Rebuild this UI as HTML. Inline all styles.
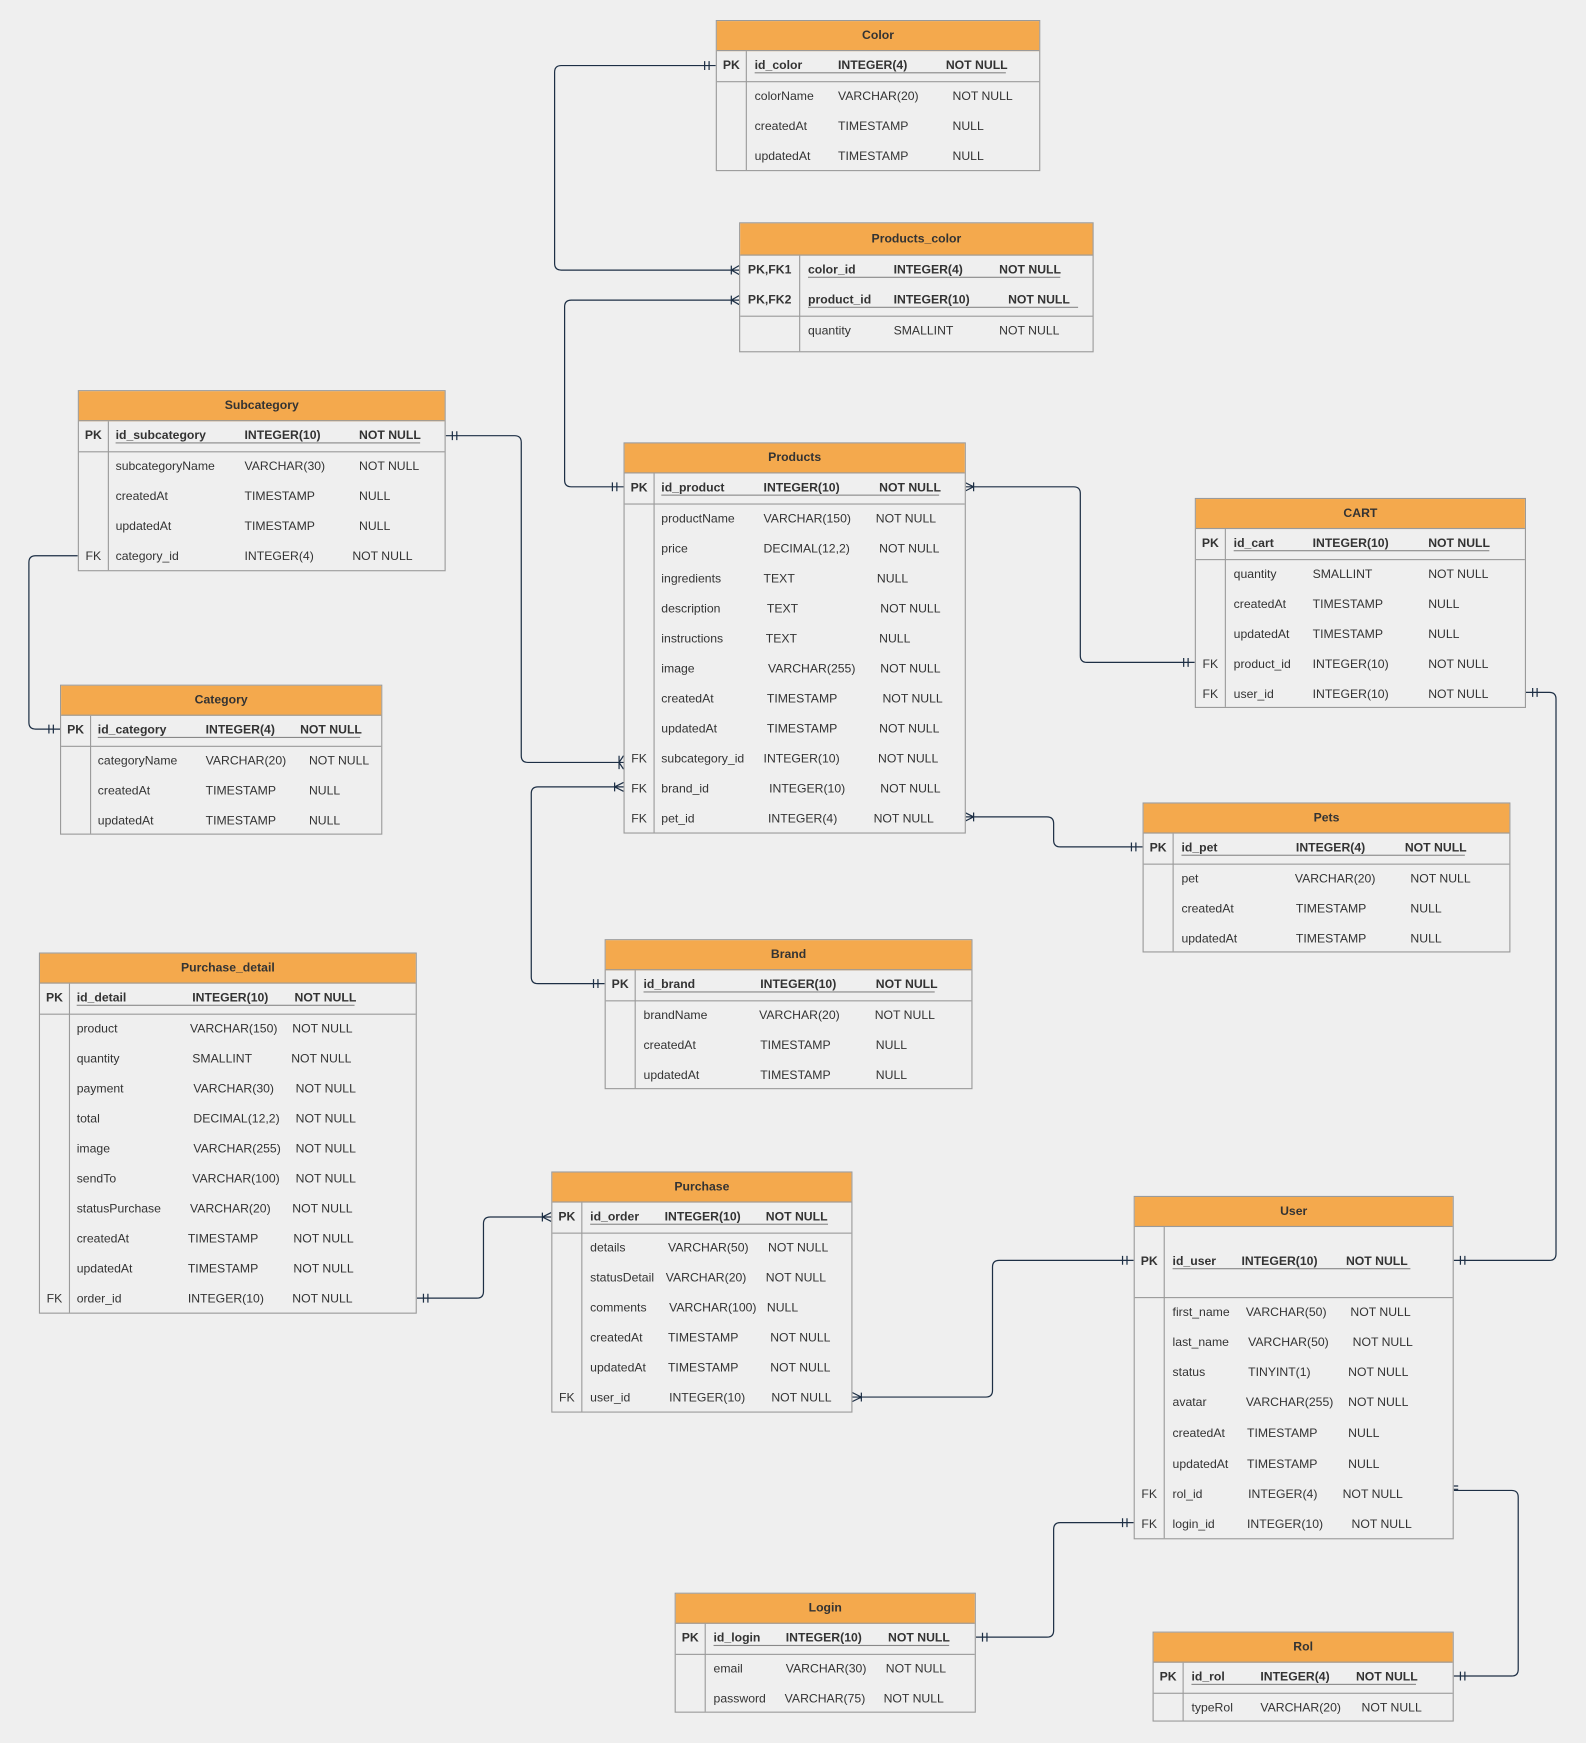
<!DOCTYPE html>
<html><head><meta charset="utf-8"><style>
html,body{margin:0;padding:0;background:#efefef;}
#w{position:absolute;left:0;top:0;width:1427px;height:1568px;transform:scale(1.11143);transform-origin:0 0;font-family:"Liberation Sans",Arial,sans-serif;font-size:11px;color:#333;}
.t{position:absolute;border:1px solid #9a9a9a;background:#efefef;box-sizing:border-box;}
.h{height:27px;line-height:27px;background:#f4a94d;border-bottom:1px solid #9a9a9a;text-align:center;font-weight:bold;box-sizing:border-box;}
.r{position:relative;height:27px;line-height:27px;white-space:nowrap;}
.r span{position:absolute;top:0;}
.a{left:0;width:26px;text-align:center;}
.b{left:var(--n);}.c{left:var(--y);}.d{left:var(--z);}
.k{border-bottom:1px solid #9a9a9a;font-weight:bold;}
.k span.b,.k span.c,.k span.d{font-weight:bold;}
.u{position:absolute;height:1px;background:#888;top:19px;}
.v{position:absolute;top:27px;bottom:0;width:1px;background:#9a9a9a;left:26px;}
svg{position:absolute;left:0;top:0;}
</style></head><body><div id="w">
<svg width="1427" height="1568" fill="none" stroke="#1d2f45" stroke-width="1.1">
<path d="M644 59H505q-6 0 -6 6V237q0 6 6 6H665"/>
<path d="M665 270H514q-6 0 -6 6V432q0 6 6 6H561"/>
<path d="M401 392H463q6 0 6 6V680q0 6 6 6H561"/>
<path d="M70 500H32q-6 0 -6 6V650q0 6 6 6H54"/>
<path d="M868 438H966q6 0 6 6V590q0 6 6 6H1075"/>
<path d="M561 708H484q-6 0 -6 6V879q0 6 6 6H544"/>
<path d="M868 735H942q6 0 6 6V756q0 6 6 6H1028"/>
<path d="M1373 623H1394q6 0 6 6V1128q0 6 -6 6H1308"/>
<path d="M375 1168H429q6 0 6 -6V1101q0 -6 6 -6H496"/>
<path d="M767 1257H887q6 0 6 -6V1140q0 -6 6 -6H1020"/>
<path d="M1308 1341H1360q6 0 6 6V1502q0 6 -6 6H1308"/>
<path d="M1020 1370H954q-6 0 -6 6V1467q0 6 -6 6H878"/>
<path d="M634 55v8M638 55v8 M551 434v8M555 434v8 M407 388v8M411 388v8 M44 652v8M48 652v8 M1065 592v8M1069 592v8 M534 881v8M538 881v8 M1018 758v8M1022 758v8 M1379 619v8M1383 619v8 M1314 1130v8M1318 1130v8 M381 1164v8M385 1164v8 M1010 1130v8M1014 1130v8 M1314 1504v8M1318 1504v8 M1010 1366v8M1014 1366v8 M884 1469v8M888 1469v8 M1304 1337h8M1304 1340h8"/>
<path d="M665 239l-7 4l7 4M658 239v8 M665 266l-7 4l7 4M658 266v8 M561 680l-4 6l4 6M557 680v12 M561 704l-8 4l8 4M553 704v8 M868 434l8 4l-8 4M876 434v8 M868 731l8 4l-8 4M876 731v8 M496 1091l-8 4l8 4M488 1091v8 M767 1253l8 4l-8 4M775 1253v8"/>
</svg>

<div class="t" style="left:644px;top:18px;width:292px;height:136px;--n:34px;--y:109px;--z:212px"><div class="h">Color</div><div class="v"></div>
<div class="r k"><span class="a">PK</span><span class="b">id_color</span><span class="c">INTEGER(4)</span><span class="d" style="left:206px">NOT NULL</span><div class="u" style="left:34px;width:226px"></div></div>
<div class="r"><span class="b">colorName</span><span class="c">VARCHAR(20)</span><span class="d">NOT NULL</span></div>
<div class="r"><span class="b">createdAt</span><span class="c">TIMESTAMP</span><span class="d">NULL</span></div>
<div class="r"><span class="b">updatedAt</span><span class="c">TIMESTAMP</span><span class="d">NULL</span></div></div>

<div class="t" style="left:665px;top:200px;width:319px;height:117px;--n:61px;--y:138px;--z:233px"><div class="h" style="height:29px;line-height:29px">Products_color</div><div class="v" style="left:53px;top:29px"></div>
<div class="r" style="font-weight:bold"><span class="a" style="width:53px">PK,FK1</span><span class="b">color_id</span><span class="c">INTEGER(4)</span><span class="d">NOT NULL</span><div class="u" style="left:61px;width:227px"></div></div>
<div class="r k"><span class="a" style="width:53px">PK,FK2</span><span class="b">product_id</span><span class="c">INTEGER(10)</span><span class="d" style="left:241px">NOT NULL</span><div class="u" style="left:61px;width:243px"></div></div>
<div class="r"><span class="b">quantity</span><span class="c">SMALLINT</span><span class="d">NOT NULL</span></div></div>

<div class="t" style="left:70px;top:351px;width:331px;height:163px;--n:33px;--y:149px;--z:252px"><div class="h">Subcategory</div><div class="v"></div>
<div class="r k"><span class="a">PK</span><span class="b">id_subcategory</span><span class="c">INTEGER(10)</span><span class="d">NOT NULL</span><div class="u" style="left:33px;width:274px"></div></div>
<div class="r"><span class="b">subcategoryName</span><span class="c">VARCHAR(30)</span><span class="d">NOT NULL</span></div>
<div class="r"><span class="b">createdAt</span><span class="c">TIMESTAMP</span><span class="d">NULL</span></div>
<div class="r"><span class="b">updatedAt</span><span class="c">TIMESTAMP</span><span class="d">NULL</span></div>
<div class="r"><span class="a">FK</span><span class="b">category_id</span><span class="c">INTEGER(4)</span><span class="d" style="left:246px">NOT NULL</span></div></div>

<div class="t" style="left:54px;top:616px;width:290px;height:135px;--n:33px;--y:130px;--z:223px"><div class="h">Category</div><div class="v"></div>
<div class="r k"><span class="a">PK</span><span class="b">id_category</span><span class="c">INTEGER(4)</span><span class="d" style="left:215px">NOT NULL</span><div class="u" style="left:33px;width:236px"></div></div>
<div class="r"><span class="b">categoryName</span><span class="c">VARCHAR(20)</span><span class="d">NOT NULL</span></div>
<div class="r"><span class="b">createdAt</span><span class="c">TIMESTAMP</span><span class="d">NULL</span></div>
<div class="r"><span class="b">updatedAt</span><span class="c">TIMESTAMP</span><span class="d">NULL</span></div></div>

<div class="t" style="left:561px;top:398px;width:308px;height:352px;--n:33px;--y:125px;--z:229px"><div class="h">Products</div><div class="v"></div>
<div class="r k"><span class="a">PK</span><span class="b">id_product</span><span class="c">INTEGER(10)</span><span class="d">NOT NULL</span><div class="u" style="left:33px;width:250px"></div></div>
<div class="r"><span class="b">productName</span><span class="c">VARCHAR(150)</span><span class="d" style="left:226px">NOT NULL</span></div>
<div class="r"><span class="b">price</span><span class="c">DECIMAL(12,2)</span><span class="d">NOT NULL</span></div>
<div class="r"><span class="b">ingredients</span><span class="c">TEXT</span><span class="d" style="left:227px">NULL</span></div>
<div class="r"><span class="b">description</span><span class="c" style="left:128px">TEXT</span><span class="d" style="left:230px">NOT NULL</span></div>
<div class="r"><span class="b">instructions</span><span class="c" style="left:127px">TEXT</span><span class="d">NULL</span></div>
<div class="r"><span class="b">image</span><span class="c" style="left:129px">VARCHAR(255)</span><span class="d" style="left:230px">NOT NULL</span></div>
<div class="r"><span class="b">createdAt</span><span class="c" style="left:128px">TIMESTAMP</span><span class="d" style="left:232px">NOT NULL</span></div>
<div class="r"><span class="b">updatedAt</span><span class="c" style="left:128px">TIMESTAMP</span><span class="d">NOT NULL</span></div>
<div class="r"><span class="a">FK</span><span class="b">subcategory_id</span><span class="c">INTEGER(10)</span><span class="d" style="left:228px">NOT NULL</span></div>
<div class="r"><span class="a">FK</span><span class="b">brand_id</span><span class="c" style="left:130px">INTEGER(10)</span><span class="d" style="left:230px">NOT NULL</span></div>
<div class="r"><span class="a">FK</span><span class="b">pet_id</span><span class="c" style="left:129px">INTEGER(4)</span><span class="d" style="left:224px">NOT NULL</span></div></div>

<div class="t" style="left:1075px;top:448px;width:298px;height:189px;--n:34px;--y:105px;--z:209px"><div class="h">CART</div><div class="v"></div>
<div class="r k"><span class="a">PK</span><span class="b">id_cart</span><span class="c">INTEGER(10)</span><span class="d">NOT NULL</span><div class="u" style="left:34px;width:230px"></div></div>
<div class="r"><span class="b">quantity</span><span class="c">SMALLINT</span><span class="d">NOT NULL</span></div>
<div class="r"><span class="b">createdAt</span><span class="c">TIMESTAMP</span><span class="d">NULL</span></div>
<div class="r"><span class="b">updatedAt</span><span class="c">TIMESTAMP</span><span class="d">NULL</span></div>
<div class="r"><span class="a">FK</span><span class="b">product_id</span><span class="c">INTEGER(10)</span><span class="d">NOT NULL</span></div>
<div class="r"><span class="a">FK</span><span class="b">user_id</span><span class="c">INTEGER(10)</span><span class="d">NOT NULL</span></div></div>

<div class="t" style="left:1028px;top:722px;width:331px;height:135px;--n:34px;--y:137px;--z:240px"><div class="h">Pets</div><div class="v"></div>
<div class="r k"><span class="a">PK</span><span class="b">id_pet</span><span class="c">INTEGER(4)</span><span class="d" style="left:235px">NOT NULL</span><div class="u" style="left:34px;width:255px"></div></div>
<div class="r"><span class="b">pet</span><span class="c" style="left:136px">VARCHAR(20)</span><span class="d">NOT NULL</span></div>
<div class="r"><span class="b">createdAt</span><span class="c">TIMESTAMP</span><span class="d">NULL</span></div>
<div class="r"><span class="b">updatedAt</span><span class="c">TIMESTAMP</span><span class="d">NULL</span></div></div>

<div class="t" style="left:544px;top:845px;width:331px;height:135px;--n:34px;--y:139px;--z:243px"><div class="h">Brand</div><div class="v"></div>
<div class="r k"><span class="a">PK</span><span class="b">id_brand</span><span class="c">INTEGER(10)</span><span class="d">NOT NULL</span><div class="u" style="left:34px;width:262px"></div></div>
<div class="r"><span class="b">brandName</span><span class="c" style="left:138px">VARCHAR(20)</span><span class="d" style="left:242px">NOT NULL</span></div>
<div class="r"><span class="b">createdAt</span><span class="c">TIMESTAMP</span><span class="d">NULL</span></div>
<div class="r"><span class="b">updatedAt</span><span class="c">TIMESTAMP</span><span class="d">NULL</span></div></div>

<div class="t" style="left:35px;top:857px;width:340px;height:325px;--n:33px;--y:137px;--z:229px"><div class="h">Purchase_detail</div><div class="v"></div>
<div class="r k"><span class="a">PK</span><span class="b">id_detail</span><span class="c">INTEGER(10)</span><span class="d">NOT NULL</span><div class="u" style="left:33px;width:250px"></div></div>
<div class="r"><span class="b">product</span><span class="c" style="left:135px">VARCHAR(150)</span><span class="d" style="left:227px">NOT NULL</span></div>
<div class="r"><span class="b">quantity</span><span class="c">SMALLINT</span><span class="d" style="left:226px">NOT NULL</span></div>
<div class="r"><span class="b">payment</span><span class="c" style="left:138px">VARCHAR(30)</span><span class="d" style="left:230px">NOT NULL</span></div>
<div class="r"><span class="b">total</span><span class="c" style="left:138px">DECIMAL(12,2)</span><span class="d" style="left:230px">NOT NULL</span></div>
<div class="r"><span class="b">image</span><span class="c" style="left:138px">VARCHAR(255)</span><span class="d" style="left:230px">NOT NULL</span></div>
<div class="r"><span class="b">sendTo</span><span class="c" style="left:137px">VARCHAR(100)</span><span class="d" style="left:230px">NOT NULL</span></div>
<div class="r"><span class="b">statusPurchase</span><span class="c" style="left:135px">VARCHAR(20)</span><span class="d" style="left:227px">NOT NULL</span></div>
<div class="r"><span class="b">createdAt</span><span class="c" style="left:133px">TIMESTAMP</span><span class="d" style="left:228px">NOT NULL</span></div>
<div class="r"><span class="b">updatedAt</span><span class="c" style="left:133px">TIMESTAMP</span><span class="d" style="left:228px">NOT NULL</span></div>
<div class="r"><span class="a">FK</span><span class="b">order_id</span><span class="c" style="left:133px">INTEGER(10)</span><span class="d" style="left:227px">NOT NULL</span></div></div>

<div class="t" style="left:496px;top:1054px;width:271px;height:217px;--n:34px;--y:104px;--z:194px"><div class="h">Purchase</div><div class="v"></div>
<div class="r k"><span class="a">PK</span><span class="b">id_order</span><span class="c" style="left:101px">INTEGER(10)</span><span class="d" style="left:192px">NOT NULL</span><div class="u" style="left:34px;width:214px"></div></div>
<div class="r"><span class="b">details</span><span class="c">VARCHAR(50)</span><span class="d">NOT NULL</span></div>
<div class="r"><span class="b">statusDetail</span><span class="c" style="left:102px">VARCHAR(20)</span><span class="d" style="left:192px">NOT NULL</span></div>
<div class="r"><span class="b">comments</span><span class="c" style="left:105px">VARCHAR(100)</span><span class="d" style="left:193px">NULL</span></div>
<div class="r"><span class="b">createdAt</span><span class="c">TIMESTAMP</span><span class="d" style="left:196px">NOT NULL</span></div>
<div class="r"><span class="b">updatedAt</span><span class="c">TIMESTAMP</span><span class="d" style="left:196px">NOT NULL</span></div>
<div class="r"><span class="a">FK</span><span class="b">user_id</span><span class="c" style="left:105px">INTEGER(10)</span><span class="d" style="left:197px">NOT NULL</span></div></div>

<div class="t" style="left:1020px;top:1076px;width:288px;height:309px;--n:34px;--y:100px;--z:194px"><div class="h">User</div><div class="v"></div>
<div class="r k" style="height:63px;line-height:63px"><span class="a">PK</span><span class="b">id_user</span><span class="c" style="left:96px">INTEGER(10)</span><span class="d" style="left:190px">NOT NULL</span><div class="u" style="left:34px;width:214px;top:37px"></div></div>
<div class="r"><span class="b">first_name</span><span class="c">VARCHAR(50)</span><span class="d">NOT NULL</span></div>
<div class="r"><span class="b">last_name</span><span class="c" style="left:102px">VARCHAR(50)</span><span class="d" style="left:196px">NOT NULL</span></div>
<div class="r"><span class="b">status</span><span class="c" style="left:102px">TINYINT(1)</span><span class="d" style="left:192px">NOT NULL</span></div>
<div class="r" style="height:28px"><span class="b">avatar</span><span class="c">VARCHAR(255)</span><span class="d" style="left:192px">NOT NULL</span></div>
<div class="r" style="height:28px"><span class="b">createdAt</span><span class="c" style="left:101px">TIMESTAMP</span><span class="d" style="left:192px">NULL</span></div>
<div class="r"><span class="b">updatedAt</span><span class="c" style="left:101px">TIMESTAMP</span><span class="d" style="left:192px">NULL</span></div>
<div class="r"><span class="a">FK</span><span class="b">rol_id</span><span class="c" style="left:102px">INTEGER(4)</span><span class="d" style="left:187px">NOT NULL</span></div>
<div class="r"><span class="a">FK</span><span class="b">login_id</span><span class="c" style="left:101px">INTEGER(10)</span><span class="d" style="left:195px">NOT NULL</span></div></div>

<div class="t" style="left:607px;top:1433px;width:271px;height:108px;--n:34px;--y:99px;--z:189px"><div class="h">Login</div><div class="v"></div>
<div class="r k"><span class="a">PK</span><span class="b">id_login</span><span class="c">INTEGER(10)</span><span class="d" style="left:191px">NOT NULL</span><div class="u" style="left:34px;width:212px"></div></div>
<div class="r"><span class="b">email</span><span class="c">VARCHAR(30)</span><span class="d">NOT NULL</span></div>
<div class="r"><span class="b">password</span><span class="c" style="left:98px">VARCHAR(75)</span><span class="d" style="left:187px">NOT NULL</span></div></div>

<div class="t" style="left:1037px;top:1468px;width:271px;height:81px;--n:34px;--y:96px;--z:187px"><div class="h">Rol</div><div class="v"></div>
<div class="r k"><span class="a">PK</span><span class="b">id_rol</span><span class="c">INTEGER(4)</span><span class="d" style="left:182px">NOT NULL</span><div class="u" style="left:34px;width:202px"></div></div>
<div class="r"><span class="b">typeRol</span><span class="c">VARCHAR(20)</span><span class="d">NOT NULL</span></div></div>
</div></body></html>
